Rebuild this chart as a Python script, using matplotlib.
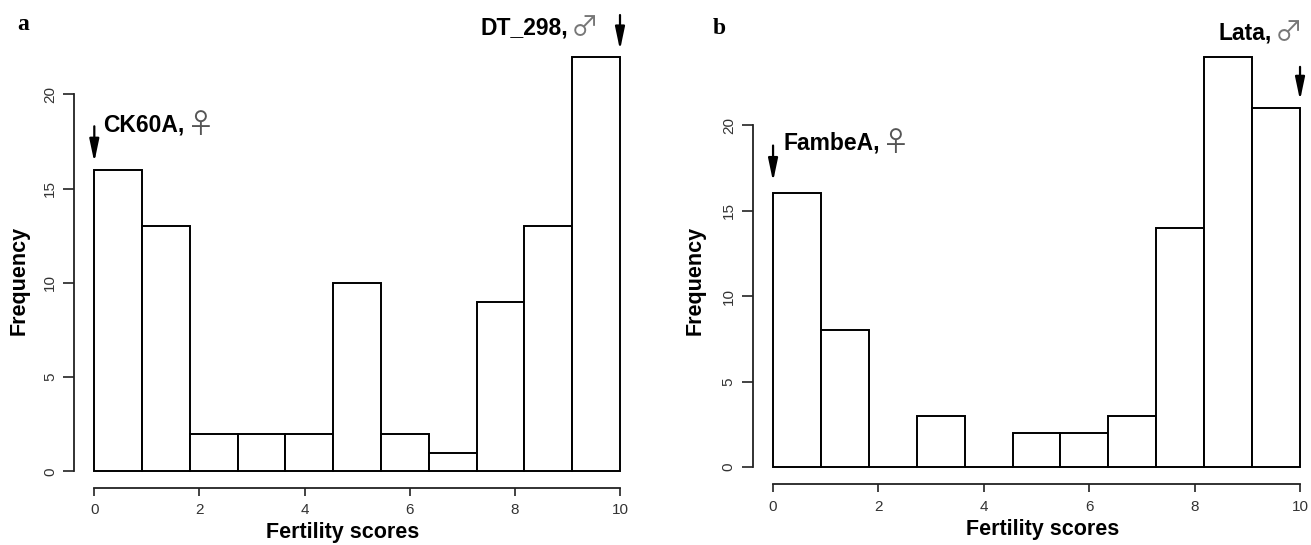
import numpy as np
import matplotlib
matplotlib.use('Agg')
import matplotlib.pyplot as plt

plt.rcParams['font.family'] = ['Liberation Sans', 'DejaVu Sans']

# histogram data (11 equal bins between 0 and 10)
bin_edges = np.linspace(0, 10, 12)
counts_a = [16, 13, 2, 2, 2, 10, 2, 1, 9, 13, 22]
counts_b = [16, 8, 0, 3, 0, 2, 2, 3, 14, 24, 21]
x_ticks = [0, 2, 4, 6, 8, 10]
y_ticks = [0, 5, 10, 15, 20]

# parent labels: (name, symbol, arrow x, arrow top, arrow tip, text x, text y, side)
parents_a = [('CK60A,', '\u2640', 0, 18.3, 16.4, 0.16, 18.37, 'left'),
             ('DT_298,', '\u2642', 10, 24.2, 22.35, 9.6, 23.5, 'right')]
parents_b = [('FambeA,', '\u2640', 0, 18.8, 16.7, 0.19, 18.95, 'left'),
             ('Lata,', '\u2642', 10, 23.4, 21.45, 10.05, 25.4, 'right')]

W, H = 1311, 545
fig = plt.figure(figsize=(W / 100, H / 100), dpi=100)
sym_family = ['Noto Sans CJK JP', 'DejaVu Sans']


def px_axes(left, right, top, bottom):
    return fig.add_axes([left / W, (H - bottom) / H, (right - left) / W, (bottom - top) / H])


def draw_panel(ax, counts, parents, xlim, ylim, xlab_pos, ylab_pos):
    ax.bar(bin_edges[:-1], counts, width=np.diff(bin_edges), align='edge',
           facecolor='white', edgecolor='black', linewidth=1.4)
    ax.set_xlim(*xlim)
    ax.set_ylim(*ylim)
    for s in ['top', 'right']:
        ax.spines[s].set_visible(False)
    ax.spines['left'].set_bounds(0, 20)
    ax.spines['bottom'].set_bounds(0, 10)
    for s in ['left', 'bottom']:
        ax.spines[s].set_linewidth(1.3)
        ax.spines[s].set_color('#222222')
    ax.set_xticks(x_ticks)
    ax.set_yticks(y_ticks)
    ax.tick_params(axis='y', length=8, width=1.2, pad=4, labelsize=11,
                   labelcolor='#333333', labelrotation=90, color='#222222')
    ax.tick_params(axis='x', length=6, width=1.2, pad=5, labelsize=11,
                   labelcolor='#333333', color='#222222')
    for lbl in ax.get_yticklabels():
        lbl.set_va('center')
    ax.set_xlabel('Fertility scores', fontsize=15.5, fontweight='bold', va='center')
    ax.set_ylabel('Frequency', fontsize=15.5, fontweight='bold', va='center')
    ax.xaxis.set_label_coords(*xlab_pos)
    ax.yaxis.set_label_coords(*ylab_pos)

    for name, sym, ax_x, y0, y1, tx, ty, side in parents:
        ax.annotate('', xy=(ax_x, y1), xytext=(ax_x, y0),
                    arrowprops=dict(arrowstyle='-|>,head_length=0.76,head_width=0.16',
                                    color='black', lw=1.6, mutation_scale=18,
                                    shrinkA=0, shrinkB=0),
                    annotation_clip=False)
        if side == 'left':
            t = ax.text(tx, ty, name, ha='left', va='center', fontsize=16.5,
                        fontweight='bold', clip_on=False)
            ax.annotate(sym, xy=(1, 0.5), xycoords=t, xytext=(2, 0),
                        textcoords='offset points', ha='left', va='center',
                        fontsize=20, color='#555555', family=sym_family,
                        annotation_clip=False)
        else:
            s = ax.text(tx, ty, sym, ha='right', va='center', fontsize=20,
                        color='#777777', family=sym_family, clip_on=False)
            ax.annotate(name, xy=(0, 0.5), xycoords=s, xytext=(-2, 0),
                        textcoords='offset points', ha='right', va='center',
                        fontsize=16.5, fontweight='bold', annotation_clip=False)


ax_a = px_axes(73.8, 640.5, 18.8, 487.8)
draw_panel(ax_a, counts_a, parents_a, (-0.39, 10.39), (-0.87, 24.0),
           (0.475, -0.096), (-0.097, 0.442))

ax_b = px_axes(752.5, 1305.3, 22.4, 484.3)
draw_panel(ax_b, counts_b, parents_b, (-0.39, 10.1), (-1.01, 26.0),
           (0.5255, -0.098), (-0.103, 0.442))

fig.text(23 / W, 1 - 24 / H, 'a', family=['Liberation Serif'], fontweight='bold',
         fontsize=17, ha='center', va='center')
fig.text(719.5 / W, 1 - 28.7 / H, 'b', family=['Liberation Serif'], fontweight='bold',
         fontsize=17, ha='center', va='center')

fig.savefig('out.png', dpi=100)
